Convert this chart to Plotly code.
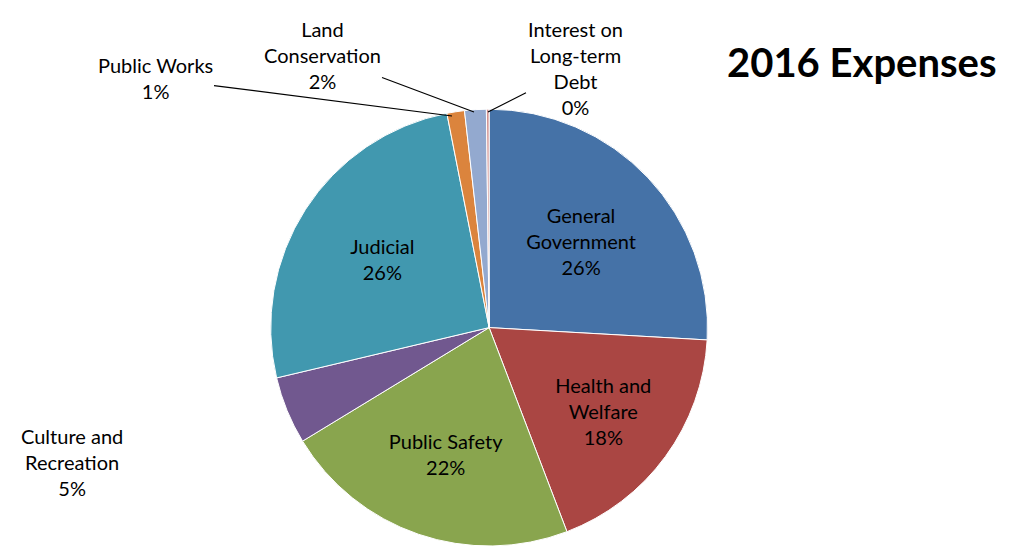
import plotly.graph_objects as go

categories = ["General Government", "Health and Welfare", "Public Safety",
              "Culture and Recreation", "Judicial", "Public Works",
              "Land Conservation", "Interest on Long-term Debt"]
label_text = ["General<br>Government", "Health and<br>Welfare", "Public Safety",
              "Culture and<br>Recreation", "Judicial", "Public Works",
              "Land<br>Conservation", "Interest on<br>Long-term<br>Debt"]
values = [25.9, 18.3, 22.1, 5.0, 25.6, 1.3, 1.6, 0.2]
pct_labels = ["26%", "18%", "22%", "5%", "26%", "1%", "2%", "0%"]
colors = ["#4572A7", "#AA4643", "#89A54E", "#71588F", "#4198AF",
          "#DB843D", "#93A9CF", "#D19392"]
positions = ["inside", "inside", "inside", "none", "inside",
             "none", "none", "none"]

FONT = "Lato, Carlito, sans-serif"

fig = go.Figure(go.Pie(
    labels=categories,
    values=values,
    text=label_text,
    texttemplate="%{text}<br>%{percent:.0%}",
    textposition=positions,
    insidetextorientation="horizontal",
    automargin=False,
    sort=False,
    direction="clockwise",
    rotation=0,
    marker=dict(colors=colors, line=dict(color="white", width=1)),
    textfont=dict(family=FONT, size=20, color="black"),
    showlegend=False,
    domain=dict(x=[0.26, 0.70], y=[0.0, 0.80]),
))

W, H = 1019, 546
# labels for the thin slices placed above the pie with leader lines
small_labels = [
    # (index, text x px, text y px, arrow tip x px, arrow tip y px)
    (5, 155, 78, 452, 116),
    (6, 322, 55, 474, 112),
    (7, 575, 68, 488, 112),
]
annotations = []
for idx, tx, ty, px, py in small_labels:
    annotations.append(dict(
        text=label_text[idx] + "<br>" + pct_labels[idx],
        x=px / W, y=1 - py / H, xref="paper", yref="paper",
        ax=tx - px, ay=ty - py, axref="pixel", ayref="pixel",
        showarrow=True, arrowhead=0, arrowwidth=1.2, arrowcolor="black",
        font=dict(family=FONT, size=20, color="black"),
    ))

annotations.append(dict(
    text=label_text[3] + "<br>" + pct_labels[3],
    x=72 / W, y=1 - 462 / H, xref="paper", yref="paper",
    xanchor="center", yanchor="middle", showarrow=False,
    font=dict(family=FONT, size=20, color="black"),
))

annotations.append(dict(
    text="<b>2016 Expenses</b>", x=862 / W, y=1 - 62 / H, xref="paper", yref="paper",
    xanchor="center", yanchor="middle",
    showarrow=False, font=dict(family=FONT, size=40, color="black"),
))

fig.update_layout(
    width=W, height=H,
    margin=dict(l=0, r=0, t=0, b=0),
    paper_bgcolor="white",
    plot_bgcolor="white",
    annotations=annotations,
)

fig.write_html("out.html")
